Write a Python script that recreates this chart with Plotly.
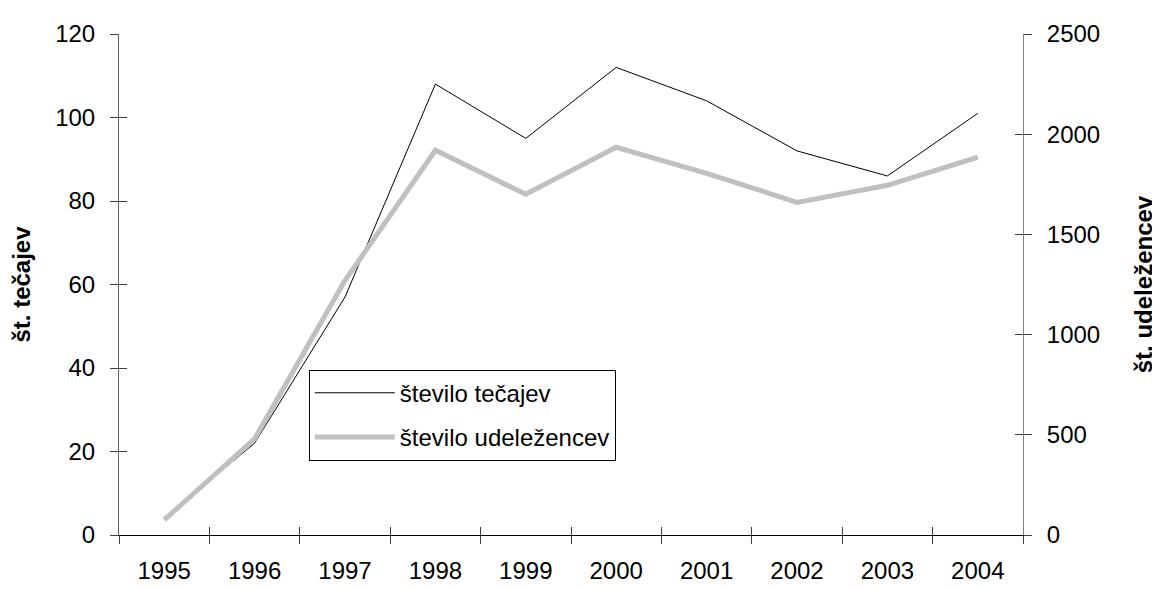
import plotly.graph_objects as go

years = ["1995", "1996", "1997", "1998", "1999", "2000", "2001", "2002", "2003", "2004"]
stevilo_tecajev = [4, 22, 57, 108, 95, 112, 104, 92, 86, 101]
stevilo_udelezencev = [75, 480, 1270, 1920, 1700, 1935, 1805, 1660, 1745, 1885]

left_ticks = [0, 20, 40, 60, 80, 100, 120]
right_ticks = [0, 500, 1000, 1500, 2000, 2500]

font_family = "Liberation Sans, Arial, sans-serif"
FS = 24

fig = go.Figure()
fig.add_trace(go.Scatter(
    x=years, y=stevilo_tecajev, mode="lines", name="število tečajev",
    legendgroup="a",
    line=dict(color="#000000", width=1), yaxis="y"))
fig.add_trace(go.Scatter(
    x=years, y=stevilo_udelezencev, mode="lines", name="število udeležencev",
    legendgroup="b",
    line=dict(color="#C0C0C0", width=5), yaxis="y2"))
# invisible helper traces so the tick-crossing overlay axes get drawn
fig.add_trace(go.Scatter(
    x=years, y=stevilo_tecajev, mode="lines", opacity=0, showlegend=False,
    hoverinfo="skip", line=dict(width=0), xaxis="x2", yaxis="y3"))
fig.add_trace(go.Scatter(
    x=years, y=stevilo_udelezencev, mode="lines", opacity=0, showlegend=False,
    hoverinfo="skip", line=dict(width=0), xaxis="x2", yaxis="y4"))

fig.update_layout(
    width=1160, height=590,
    paper_bgcolor="white", plot_bgcolor="white",
    margin=dict(l=107, r=145, t=19, b=63),
    font=dict(family=font_family, size=FS, color="#000000"),
    showlegend=True,
    legend=dict(
        x=0.21, y=0.33, xanchor="left", yanchor="top",
        bgcolor="white", bordercolor="#000000", borderwidth=1,
        font=dict(size=FS), itemwidth=80, tracegroupgap=10),
    xaxis=dict(
        type="category", range=[-0.5, 9.5], tickson="boundaries",
        ticks="outside", ticklen=8, tickcolor="#404040",
        ticklabelstandoff=14,
        showline=True, linecolor="#000000", linewidth=1,
        showgrid=False, zeroline=False),
    xaxis2=dict(
        type="category", overlaying="x", range=[-0.5, 9.5], tickson="boundaries",
        ticks="inside", ticklen=8, tickcolor="#404040",
        showticklabels=False, showline=False, showgrid=False, zeroline=False,
        side="bottom"),
    yaxis=dict(
        range=[0, 120], tickvals=left_ticks,
        ticks="outside", ticklen=8, tickcolor="#404040",
        ticklabelstandoff=10,
        showline=True, linecolor="#606060", linewidth=1,
        showgrid=False, zeroline=False,
        title=dict(text="<b>št. tečajev</b>", standoff=18, font=dict(size=FS))),
    yaxis2=dict(
        range=[0, 2500], tickvals=right_ticks, overlaying="y", side="right",
        ticks="outside", ticklen=8, tickcolor="#404040",
        ticklabelstandoff=10,
        showline=True, linecolor="#808080", linewidth=1,
        showgrid=False, zeroline=False,
        title=dict(text="<b>št. udeležencev</b>", standoff=36, font=dict(size=FS))),
    yaxis3=dict(
        range=[0, 120], tickvals=left_ticks, overlaying="y", side="left",
        ticks="inside", ticklen=8, tickcolor="#404040",
        showticklabels=False, showline=False, showgrid=False, zeroline=False),
    yaxis4=dict(
        range=[0, 2500], tickvals=right_ticks, overlaying="y", side="right",
        ticks="inside", ticklen=8, tickcolor="#404040",
        showticklabels=False, showline=False, showgrid=False, zeroline=False),
)

fig.write_html("out.html")
